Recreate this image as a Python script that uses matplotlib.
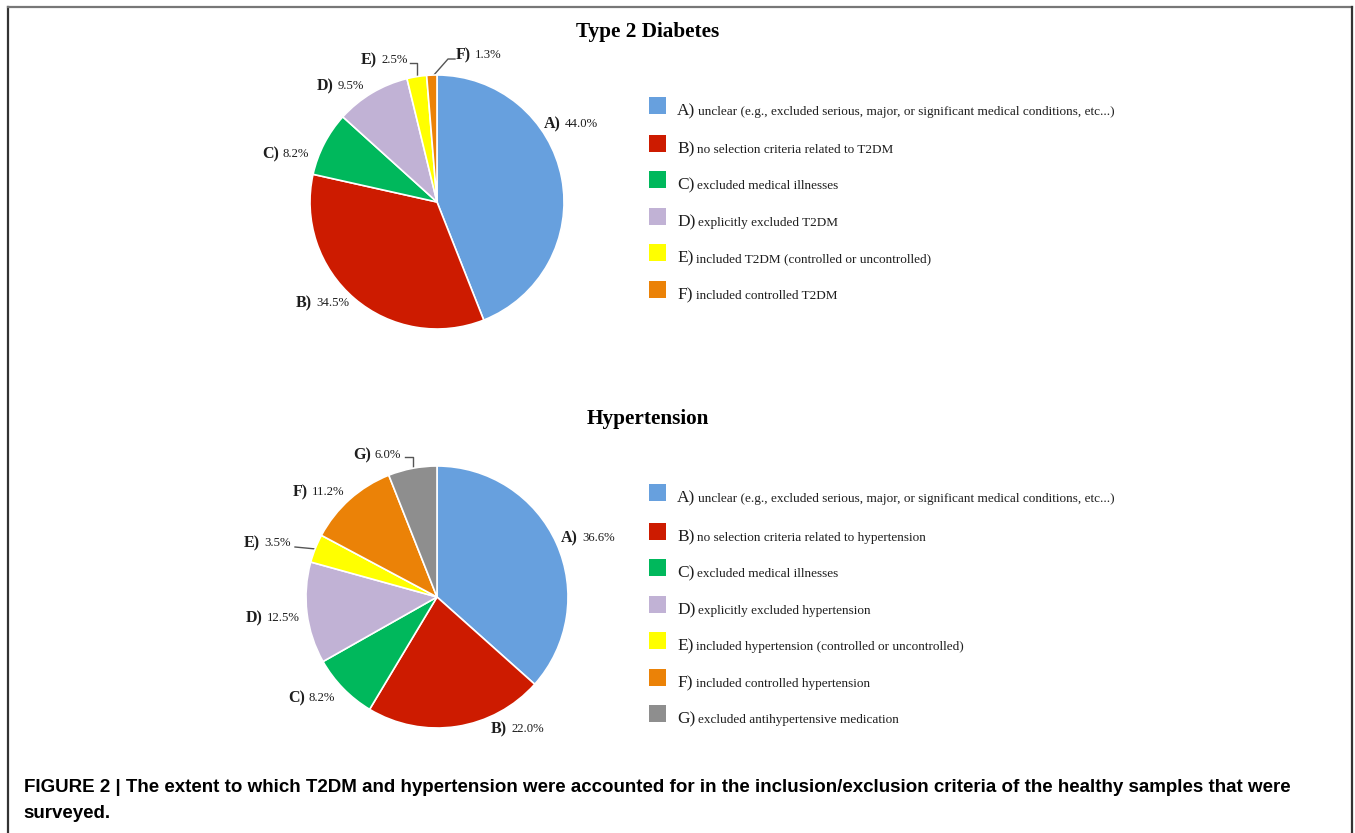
import matplotlib.pyplot as plt
from matplotlib.patches import Rectangle

W, H = 1355, 833

# Type 2 diabetes breakdown
t2dm_letters = ['A)', 'B)', 'C)', 'D)', 'E)', 'F)']
t2dm_values = [44.0, 34.5, 8.2, 9.5, 2.5, 1.3]
t2dm_desc = [
    'unclear (e.g., excluded serious, major, or significant medical conditions, etc...)',
    'no selection criteria related to T2DM',
    'excluded medical illnesses',
    'explicitly excluded T2DM',
    'included T2DM (controlled or uncontrolled)',
    'included controlled T2DM',
]

# Hypertension breakdown
htn_letters = ['A)', 'B)', 'C)', 'D)', 'E)', 'F)', 'G)']
htn_values = [36.6, 22.0, 8.2, 12.5, 3.5, 11.2, 6.0]
htn_desc = [
    'unclear (e.g., excluded serious, major, or significant medical conditions, etc...)',
    'no selection criteria related to hypertension',
    'excluded medical illnesses',
    'explicitly excluded hypertension',
    'included hypertension (controlled or uncontrolled)',
    'included controlled hypertension',
    'excluded antihypertensive medication',
]

colors = ['#67A0DE', '#CD1B00', '#00B85C', '#C1B2D5', '#FFFF00', '#EB8207', '#8E8E8E']

# layout in pixels: pie centre/radius, label anchors (left, middle), legend rows
layouts = [
    dict(title='Type 2 Diabetes', title_y=32, cx=437, cy=202, r=127,
         labels=[(544, 124), (296, 303), (262, 154), (317, 86), (361, 60), (456, 55)],
         leaders={4: [(410, 63), (417, 63), (417, 77)],
                  5: [(455, 59), (448, 59), (433, 76)]},
         rows=[111, 149, 185, 222, 258, 295]),
    dict(title='Hypertension', title_y=419, cx=437, cy=597, r=131,
         labels=[(561, 538), (491, 729), (288, 698), (246, 618), (244, 543), (293, 492), (353, 455)],
         leaders={4: [(295, 547), (316, 549)],
                  6: [(405, 457), (413, 457), (413, 468)]},
         rows=[498, 537, 573, 610, 646, 683, 719]),
]

serif = 'Liberation Serif'
ink = '#1e1e1e'

fig = plt.figure(figsize=(W / 100, H / 100), dpi=100)
ov = fig.add_axes([0, 0, 1, 1])
ov.set_xlim(0, W)
ov.set_ylim(H, 0)
ov.axis('off')
renderer = fig.canvas.get_renderer()


def two_part(x, y, head, tail, head_size, tail_size, gap=4):
    t = ov.text(x, y, head, family=serif, fontweight='bold', fontsize=head_size,
                ha='left', va='center', color=ink)
    bb = t.get_window_extent(renderer)
    ov.text(bb.x1 + gap, y, tail, family=serif, fontsize=tail_size,
            ha='left', va='center', color=ink)


def legend_part(x, y, head, tail):
    t = ov.text(x, y, head, family=serif, fontsize=12.5, ha='left', va='center', color=ink)
    bb = t.get_window_extent(renderer)
    ov.text(bb.x1 + 3, y + 1, tail, family=serif, fontsize=9.5, ha='left', va='center', color=ink)


for lay, letters, values, desc in [(layouts[0], t2dm_letters, t2dm_values, t2dm_desc),
                                   (layouts[1], htn_letters, htn_values, htn_desc)]:
    cx, cy, r = lay['cx'], lay['cy'], lay['r']
    ax = fig.add_axes([(cx - r) / W, 1 - (cy + r) / H, 2 * r / W, 2 * r / H])
    ax.pie(values, colors=colors[:len(values)], startangle=90, counterclock=False,
           radius=1, wedgeprops=dict(edgecolor='white', linewidth=1.2))
    ax.set_xlim(-1, 1)
    ax.set_ylim(-1, 1)
    ax.axis('off')

    ov.text(648, lay['title_y'], lay['title'], family=serif, fontweight='bold',
            fontsize=15.3, ha='center', va='center', color='black')

    for i, (letter, v) in enumerate(zip(letters, values)):
        lx, ly = lay['labels'][i]
        two_part(lx, ly, letter, f'{v:.1f}%', 11.5, 9.2)
        if i in lay['leaders']:
            pts = lay['leaders'][i]
            ov.plot([p[0] for p in pts], [p[1] for p in pts], color='#555555', lw=1)

    for i, (letter, d) in enumerate(zip(letters, desc)):
        y = lay['rows'][i]
        ov.add_patch(Rectangle((649, y - 14), 17, 17, facecolor=colors[i], edgecolor='none'))
        legend_part(677, y, letter, d)

# frame
ov.plot([8, 8], [H, 7], color='#333333', lw=1.6)
ov.plot([8, 1352], [7, 7], color='#777777', lw=1.6)
ov.plot([1352, 1352], [7, H], color='#333333', lw=1.6)

caption = ('FIGURE 2 | The extent to which T2DM and hypertension were accounted for in the '
           'inclusion/exclusion criteria of the healthy samples that were')
ov.text(24, 788, caption, family='Liberation Sans', fontweight='bold', fontsize=13.5,
        ha='left', va='center', color='black')
ov.text(23, 813, 'surveyed.', family='Liberation Sans', fontweight='bold', fontsize=13.5,
        ha='left', va='center', color='black')

fig.savefig('out.png', dpi=100)
